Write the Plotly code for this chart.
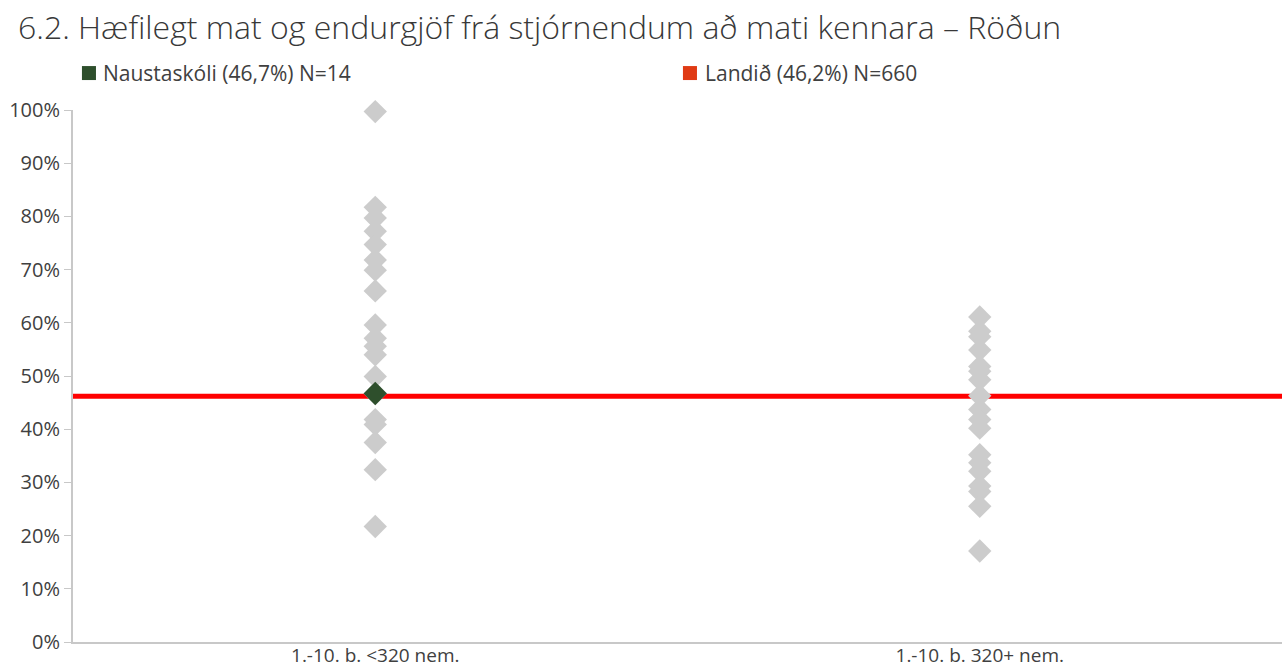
import plotly.graph_objects as go

# School-size groups on the x axis
categories = ["1.-10. b. <320 nem.", "1.-10. b. 320+ nem."]

# Share of teachers (%) per school, grouped by school size
small_schools = [99.7, 81.7, 79.7, 77.2, 74.7, 71.8, 69.9, 66.0, 59.6, 57.1,
                 55.6, 54.0, 49.9, 46.7, 41.8, 40.9, 37.5, 32.4, 21.7]
large_schools = [61.1, 58.4, 57.4, 54.9, 51.8, 50.9, 49.3, 46.3, 43.7, 41.8,
                 40.2, 35.2, 33.7, 32.1, 29.3, 28.3, 25.5, 17.1]

# Highlighted school and national average
school_name = "Naustaskóli (46,7%) N=14"
school_group = 0
school_value = 46.7
national_name = "Landið (46,2%) N=660"
national_value = 46.2

title_text = "6.2. Hæfilegt mat og endurgjöf frá stjórnendum að mati kennara – Röðun"

FONT = "Open Sans"
TEXT = "#404040"
GRAY = "#cccccc"
AXIS = "#c8c8c8"
GREEN = "#2e4f2c"
RED_LINE = "#ff0000"
RED_KEY = "#e03a14"

fig = go.Figure()

# National average line across the whole plot
fig.add_shape(type="line", xref="paper", yref="y", x0=0, x1=1,
              y0=national_value / 100, y1=national_value / 100,
              line=dict(color=RED_LINE, width=5), layer="below")

for i, vals in enumerate([small_schools, large_schools]):
    fig.add_trace(go.Scatter(
        x=[i] * len(vals), y=[v / 100 for v in vals], mode="markers",
        marker=dict(symbol="diamond", size=18, color=GRAY, line=dict(width=0)),
        showlegend=False, cliponaxis=False, hoverinfo="y"))

fig.add_trace(go.Scatter(
    x=[school_group], y=[school_value / 100], mode="markers", name=school_name,
    marker=dict(symbol="diamond", size=18, color=GREEN, line=dict(width=0)),
    showlegend=False, cliponaxis=False))

# Legend keys above the plot: coloured square + label
legend_font = dict(family=FONT, size=21, color=TEXT)
for (x0, x1, tx), label, color in [((0.0074, 0.0190, 0.0235), school_name, GREEN),
                                   ((0.5045, 0.5161, 0.5210), national_name, RED_KEY)]:
    fig.add_shape(type="rect", xref="paper", yref="paper",
                  x0=x0, x1=x1, y0=1.0563, y1=1.0826,
                  fillcolor=color, line=dict(width=0))
    fig.add_annotation(xref="paper", yref="paper", x=tx, y=1.0695,
                       text=label, showarrow=False, xanchor="left",
                       yanchor="middle", font=legend_font)

tick_font = dict(family=FONT, size=20, color=TEXT)

fig.update_layout(
    width=1282, height=670,
    margin=dict(l=73, r=0, t=110, b=28),
    paper_bgcolor="white", plot_bgcolor="white",
    font=dict(family=FONT, color=TEXT),
    showlegend=False,
    title=dict(text=title_text, xref="container", yref="container",
               x=18 / 1282, y=1 - 28 / 670, xanchor="left", yanchor="middle",
               font=dict(family=FONT, size=32, color="#383838", weight=300)),
    xaxis=dict(range=[-0.5, 1.5], tickvals=[0, 1], ticktext=categories,
               showgrid=False, zeroline=False, showline=True,
               linecolor=AXIS, linewidth=2, ticks="", automargin=False,
               ticklabelstandoff=-5,
               tickfont=dict(family=FONT, size=19, color=TEXT)),
    yaxis=dict(range=[0, 1], dtick=0.1, tickformat=".0%",
               showgrid=False, zeroline=False, showline=True,
               linecolor=AXIS, linewidth=2, ticks="outside", ticklen=7,
               tickcolor=AXIS, tickwidth=1, automargin=False,
               tickfont=tick_font),
)

fig.write_html("out.html")
